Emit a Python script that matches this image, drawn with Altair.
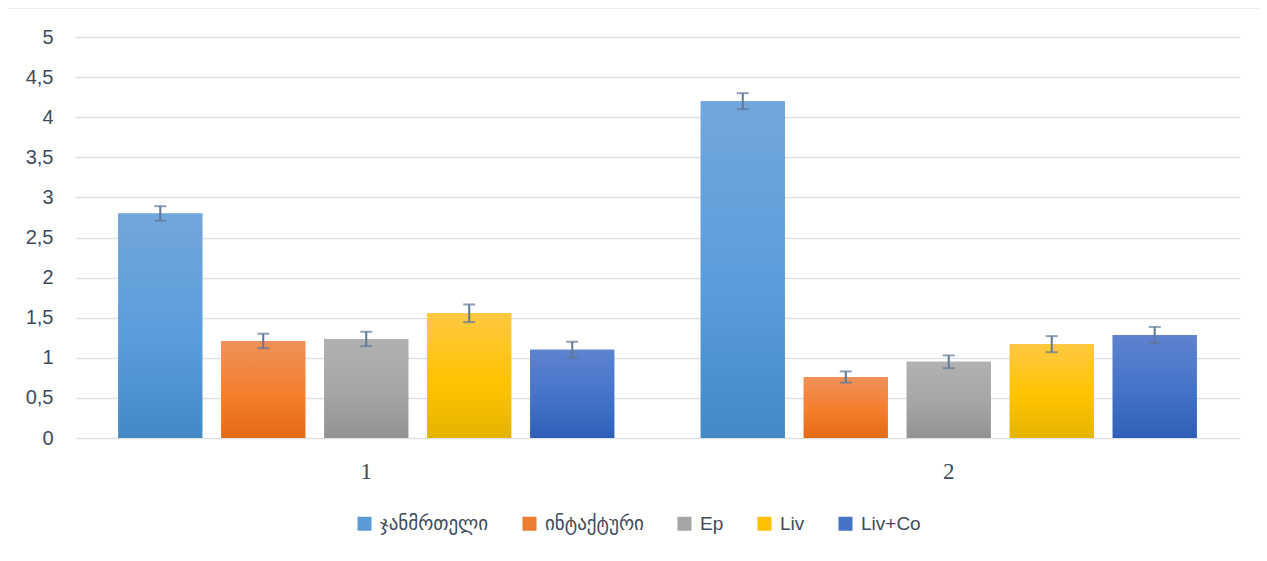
import altair as alt
import pandas as pd

groups = ["1", "2"]
series = ["ჯანმრთელი", "ინტაქტური", "Ep", "Liv", "Liv+Co"]
values_1 = [2.80, 1.21, 1.235, 1.555, 1.10]
values_2 = [4.20, 0.76, 0.95, 1.17, 1.285]
errors_1 = [0.09, 0.09, 0.09, 0.11, 0.10]
errors_2 = [0.10, 0.07, 0.08, 0.10, 0.10]
y_ticks = [0, 0.5, 1, 1.5, 2, 2.5, 3, 3.5, 4, 4.5, 5]

colors = ["#5B9BD5", "#ED7D31", "#A5A5A5", "#FFC000", "#4472C4"]
grad_top = ["#72A7DC", "#F0915A", "#B1B1B1", "#FFC843", "#5E83CF"]
grad_mid = ["#5A9DDB", "#F47E2C", "#A5A5A5", "#FFC400", "#4472C9"]
grad_bot = ["#4389C7", "#E46A17", "#929292", "#E4B400", "#2F5FB8"]

rows = []
for g, vals, errs in [(groups[0], values_1, errors_1), (groups[1], values_2, errors_2)]:
    for s, v, e in zip(series, vals, errs):
        rows.append({"group": g, "series": s, "value": v, "lo": v - e, "hi": v + e})
df = pd.DataFrame(rows)

text_color = "#3E4B5C"

x_enc = alt.X("group:N", sort=groups, title=None,
              scale=alt.Scale(paddingInner=0, paddingOuter=0),
              axis=alt.Axis(labelAngle=0, domain=False, ticks=False, labelPadding=22,
                            labelFont="Liberation Serif", labelFontSize=23,
                            labelColor=text_color, grid=False))
xo_enc = alt.XOffset("series:N", sort=series,
                     scale=alt.Scale(domain=series, paddingInner=0.184, paddingOuter=0.42))
y_enc = alt.Y("value:Q", title=None,
              scale=alt.Scale(domain=[0, 5], nice=False),
              axis=alt.Axis(values=y_ticks, domain=False, ticks=False, labelPadding=22,
                            labelFont="Liberation Sans", labelFontSize=20,
                            labelColor=text_color, gridColor="#DDE1E6", gridWidth=1.5,
                            labelExpr="replace(format(datum.value, ''), '.', ',')"))

base = alt.Chart(df).encode(x=x_enc, xOffset=xo_enc, y=y_enc)

solid = base.mark_bar().encode(
    color=alt.Color("series:N", sort=series,
                    scale=alt.Scale(domain=series, range=colors),
                    legend=alt.Legend(orient="none", legendX=280, legendY=477,
                                      direction="horizontal", title=None,
                                      symbolType="square", symbolSize=196,
                                      symbolStrokeWidth=0, labelFontSize=19,
                                      labelFont="Liberation Sans, DejaVu Sans",
                                      labelColor=text_color, labelOffset=6,
                                      columnPadding=31))
)

layers = [solid]
for s, t, m, b in zip(series, grad_top, grad_mid, grad_bot):
    grad = alt.Gradient(gradient="linear",
                        stops=[alt.GradientStop(color=t, offset=0),
                               alt.GradientStop(color=m, offset=0.55),
                               alt.GradientStop(color=b, offset=1)],
                        x1=0, x2=0, y1=0, y2=1)
    layers.append(base.transform_filter(alt.datum.series == s).mark_bar(color=grad))

err_color = "#60789A"
rule = base.mark_rule(color=err_color, strokeWidth=2).encode(y=alt.Y("lo:Q"), y2="hi:Q")
tick_lo = base.mark_tick(color=err_color, size=12, thickness=2).encode(y=alt.Y("lo:Q"))
tick_hi = base.mark_tick(color=err_color, size=12, thickness=2).encode(y=alt.Y("hi:Q"))

border = alt.Chart(pd.DataFrame({"b": [0]})).mark_rect(
    fill="transparent", stroke="#D9D9D9", strokeWidth=1
).encode(x=alt.value(-68), x2=alt.value(1186), y=alt.value(-29), y2=alt.value(530))

chart = alt.layer(border, *layers, rule, tick_lo, tick_hi).properties(
    width=1165, height=401,
    background="white",
    autosize=alt.AutoSizeParams(type="none"),
    padding={"left": 67, "top": 29, "right": 19, "bottom": 115},
).configure_view(stroke=None)

chart.save("out.html", embed_options={"renderer": "svg", "actions": False})
